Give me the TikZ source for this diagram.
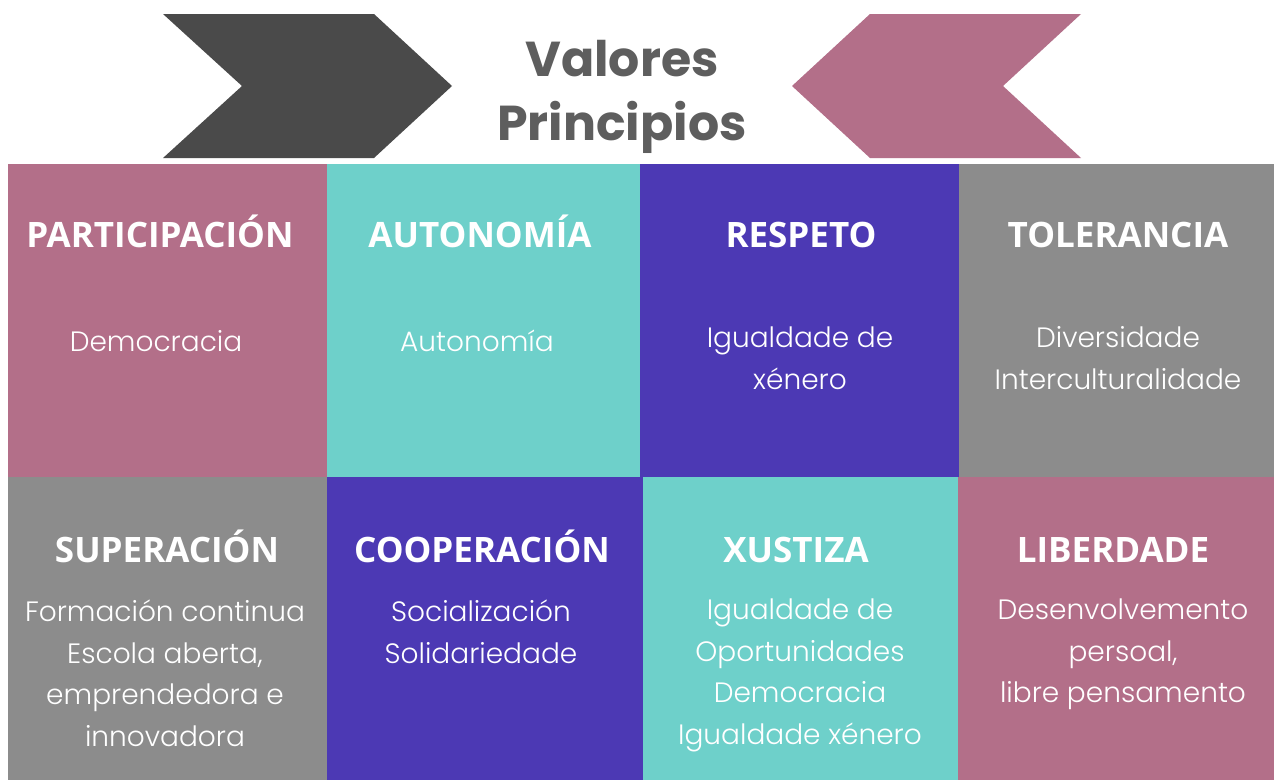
\documentclass[tikz,border=0pt]{standalone}
\usepackage{fontspec}
\setmainfont{Open Sans}
\newfontfamily\titlefont{Poppins}[BoldFont=* Bold]
\newfontfamily\headfont{Open Sans}
\newfontfamily\bodyfont{Poppins}[UprightFont=* Light]
\definecolor{cpink}{HTML}{B36F89}
\definecolor{cteal}{HTML}{6ED0CA}
\definecolor{cpurple}{HTML}{4C39B4}
\definecolor{cgray}{HTML}{8C8C8C}
\definecolor{cdark}{HTML}{4A4A4A}
\definecolor{ctitle}{HTML}{5E5E5E}
\tikzset{
  cell/.style={fill=#1, draw=none},
  head/.style={text=white, font=\headfont\bfseries\fontsize{35}{40}\selectfont, inner sep=0pt, anchor=base},
  body/.style={text=white, font=\bodyfont\fontsize{28}{41.5}\selectfont, align=center, inner sep=0pt, anchor=base},
  ttl/.style={text=ctitle, font=\titlefont\bfseries\fontsize{49}{60}\selectfont, inner sep=0pt, anchor=base}
}
\begin{document}
\begin{tikzpicture}[x=1pt,y=-1pt]
\fill[white] (0,0) rectangle (1274,780);
\useasboundingbox (0,0) rectangle (1274,780);
% chevrons
\fill[cdark] (163,14) -- (374,14) -- (452,86) -- (374,158) -- (163,158) -- (242,86) -- cycle;
\fill[cpink] (1081,14) -- (870,14) -- (792,86) -- (870,158) -- (1081,158) -- (1003,86) -- cycle;
\node[ttl] (t1) at (622,76) {Valores};
\node[ttl] (t2) at (622,140) {Principios};
% top row
\fill[cell=cpink] (8,164) rectangle (327,477);
\fill[cell=cteal] (327,164) rectangle (640,477);
\fill[cell=cpurple] (640,164) rectangle (959,477);
\fill[cell=cgray] (959,164) rectangle (1274,477);
% bottom row
\fill[cell=cgray] (8,477) rectangle (327,780);
\fill[cell=cpurple] (327,477) rectangle (643,780);
\fill[cell=cteal] (643,477) rectangle (958,780);
\fill[cell=cpink] (958,477) rectangle (1274,780);
% headings
\node[head] (h1) at (160,247.5) {PARTICIPACIÓN};
\node[head] (h2) at (480,247.5) {AUTONOMÍA};
\node[head] (h3) at (801,247.5) {RESPETO};
\node[head] (h4) at (1118,247.5) {TOLERANCIA};
\node[head] (h5) at (167,562) {SUPERACIÓN};
\node[head] (h6) at (482,562) {COOPERACIÓN};
\node[head] (h7) at (796,562) {XUSTIZA};
\node[head] (h8) at (1113,562) {LIBERDADE};
% bodies (anchor base = baseline of the last line)
\node[body] (b1) at (156,351) {Democracia};
\node[body] (b2) at (477,351) {Autonomía};
\node[body] (b3) at (800,389) {Igualdade de\\xénero};
\node[body] (b4) at (1118,389) {Diversidade\\Interculturalidade};
\node[body] (b5) at (165,746) {Formación continua\\Escola aberta,\\emprendedora e\\innovadora};
\node[body] (b6) at (481,663) {Socialización\\Solidariedade};
\node[body] (b7) at (800,744) {Igualdade de\\Oportunidades\\Democracia\\Igualdade xénero};
\node[body] (b8) at (1123,702.5) {Desenvolvemento\\persoal,\\libre pensamento};
\end{tikzpicture}
\end{document}
